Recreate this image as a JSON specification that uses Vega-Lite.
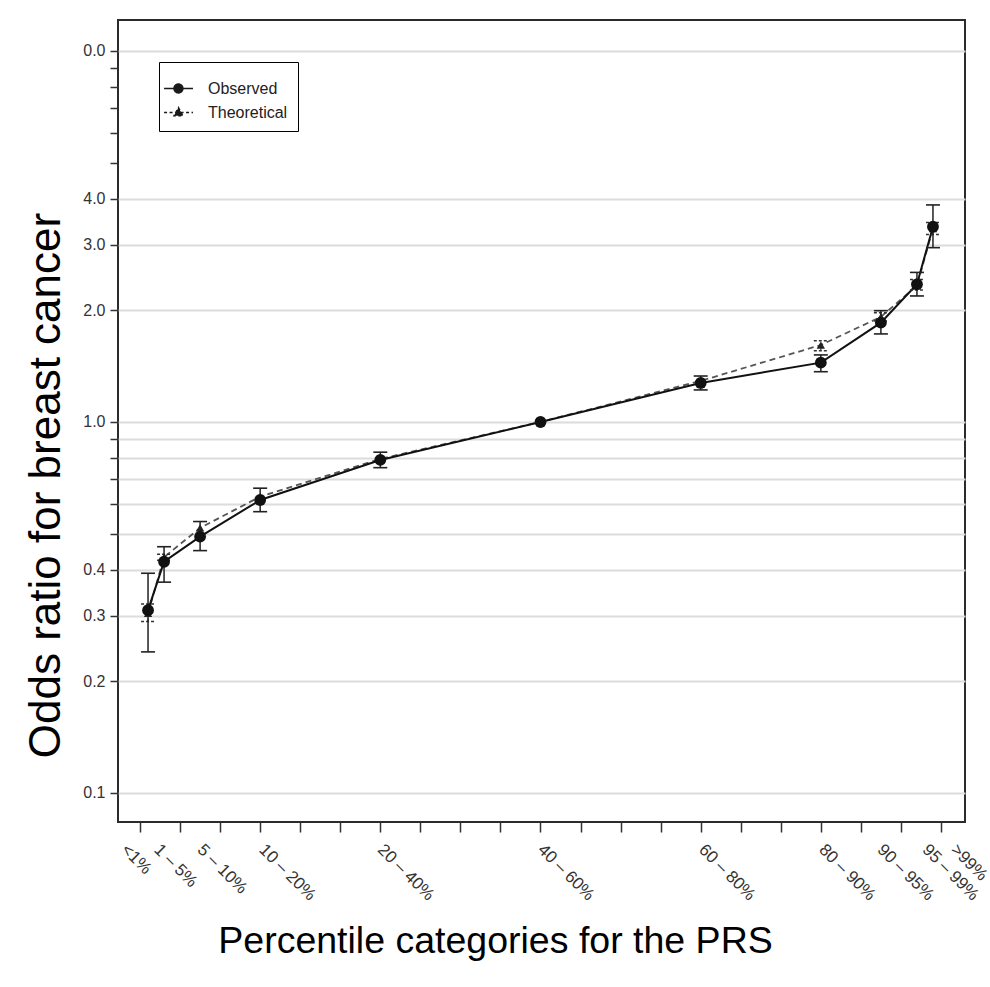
{
  "$schema": "https://vega.github.io/schema/vega-lite/v6.json",
  "width": 847,
  "height": 802,
  "autosize": {"type": "none"},
  "padding": {"left": 118, "top": 20, "right": 25, "bottom": 165},
  "background": "white",
  "config": {"view": {"stroke": "#2b2b2b", "strokeWidth": 2}, "font": "Liberation Sans"},
  "datasets": {
    "or": [
      {"cat": "<1%", "x": 1, "series": "Theoretical", "or": 0.305, "lo": 0.29, "hi": 0.323},
      {"cat": "1 – 5%", "x": 3, "series": "Theoretical", "or": 0.432, "lo": 0.424, "hi": 0.44},
      {"cat": "5 – 10%", "x": 7.5, "series": "Theoretical", "or": 0.518, "lo": null, "hi": null},
      {"cat": "10 – 20%", "x": 15, "series": "Theoretical", "or": 0.629, "lo": null, "hi": null},
      {"cat": "20 – 40%", "x": 30, "series": "Theoretical", "or": 0.795, "lo": null, "hi": null},
      {"cat": "40 – 60%", "x": 50, "series": "Theoretical", "or": 1.0, "lo": null, "hi": null},
      {"cat": "60 – 80%", "x": 70, "series": "Theoretical", "or": 1.29, "lo": null, "hi": null},
      {"cat": "80 – 90%", "x": 85, "series": "Theoretical", "or": 1.612, "lo": 1.555, "hi": 1.655},
      {"cat": "90 – 95%", "x": 92.5, "series": "Theoretical", "or": 1.92, "lo": 1.87, "hi": 1.97},
      {"cat": "95 – 99%", "x": 97, "series": "Theoretical", "or": 2.33, "lo": 2.27, "hi": 2.42},
      {"cat": ">99%", "x": 99, "series": "Theoretical", "or": 3.32, "lo": 3.2, "hi": 3.45},
      {"cat": "<1%", "x": 1, "series": "Observed", "or": 0.311, "lo": 0.24, "hi": 0.391},
      {"cat": "1 – 5%", "x": 3, "series": "Observed", "or": 0.42, "lo": 0.37, "hi": 0.461},
      {"cat": "5 – 10%", "x": 7.5, "series": "Observed", "or": 0.491, "lo": 0.45, "hi": 0.539},
      {"cat": "10 – 20%", "x": 15, "series": "Observed", "or": 0.616, "lo": 0.573, "hi": 0.663},
      {"cat": "20 – 40%", "x": 30, "series": "Observed", "or": 0.79, "lo": 0.753, "hi": 0.829},
      {"cat": "40 – 60%", "x": 50, "series": "Observed", "or": 1.0, "lo": null, "hi": null},
      {"cat": "60 – 80%", "x": 70, "series": "Observed", "or": 1.274, "lo": 1.22, "hi": 1.33},
      {"cat": "80 – 90%", "x": 85, "series": "Observed", "or": 1.445, "lo": 1.366, "hi": 1.516},
      {"cat": "90 – 95%", "x": 92.5, "series": "Observed", "or": 1.852, "lo": 1.727, "hi": 1.995},
      {"cat": "95 – 99%", "x": 97, "series": "Observed", "or": 2.35, "lo": 2.186, "hi": 2.53},
      {"cat": ">99%", "x": 99, "series": "Observed", "or": 3.36, "lo": 2.95, "hi": 3.846}
    ]
  },
  "data": {"name": "or"},
  "resolve": {"axis": {"x": "independent"}},
  "layer": [
    {
      "transform": [{"filter": "datum.series === 'Theoretical'"}],
      "mark": {"type": "line", "strokeWidth": 1.8, "color": "#555555", "strokeDash": [6, 4]},
      "encoding": {
        "x": {"field": "x", "type": "quantitative", "scale": {"domain": [-2.75, 103], "nice": false, "zero": false},
          "axis": {"orient": "bottom", "values": [0,5,10,15,20,25,30,35,40,45,50,55,60,65,70,75,80,85,90,95,100], "labels": false, "domain": false, "grid": false, "ticks": true, "tickSize": 10, "tickColor": "#333333", "tickWidth": 1.5, "title": null}},
        "y": {"field": "or", "type": "quantitative", "scale": {"type": "log", "domain": [0.0835, 12.12], "nice": false},
          "axis": {
            "values": [0.1,0.2,0.3,0.4,0.5,0.6,0.7,0.8,0.9,1,2,3,4,5,6,7,8,9,10],
            "labelExpr": "datum.value == 10 ? '0.0' : ((datum.value == 0.1 || datum.value == 0.2 || datum.value == 0.3 || datum.value == 0.4 || datum.value == 1 || datum.value == 2 || datum.value == 3 || datum.value == 4) ? format(datum.value, '.1f') : '')",
            "labelOverlap": false,
            "grid": true, "gridColor": "#dcdcdc", "gridWidth": 1.8,
            "gridOpacity": {"condition": {"test": "datum.value > 4.5 && datum.value < 9.5", "value": 0}, "value": 1},
            "domain": false, "ticks": true, "tickColor": "#333333", "tickSize": 8, "tickWidth": 1.5,
            "labelFont": "Liberation Sans", "labelFontSize": 16, "labelColor": "#333333", "labelPadding": 5,
            "title": "Odds ratio for breast cancer", "titleFont": "Liberation Sans", "titleFontSize": 44, "titleFontWeight": "normal", "titleColor": "black",
            "titleX": -59, "titleY": 465, "titleAngle": 270, "titleAlign": "center", "titleBaseline": "alphabetic"
          }}
      }
    },
    {
      "transform": [{"filter": "datum.series === 'Observed'"}],
      "mark": {"type": "line", "strokeWidth": 2, "color": "#111111"},
      "encoding": {
        "x": {"field": "x", "type": "quantitative",
          "axis": {
            "orient": "bottom",
            "values": [-1.35, 2.75, 8.15, 15.85, 30.65, 50.65, 70.75, 85.75, 93.05, 98.65, 102.2],
            "labelExpr": "datum.value < 0 ? '<1%' : datum.value < 5 ? '1 – 5%' : datum.value < 10 ? '5 – 10%' : datum.value < 20 ? '10 – 20%' : datum.value < 40 ? '20 – 40%' : datum.value < 60 ? '40 – 60%' : datum.value < 80 ? '60 – 80%' : datum.value < 90 ? '80 – 90%' : datum.value < 95 ? '90 – 95%' : datum.value < 100 ? '95 – 99%' : '>99%'",
            "ticks": false, "tickSize": 0, "domain": false, "grid": false,
            "labelAngle": 45, "labelAlign": "left", "labelBaseline": "top", "labelPadding": 19,
            "labelFont": "Liberation Sans", "labelFontSize": 17, "labelColor": "#333333",
            "labelOverlap": false, "labelBound": false, "labelFlush": false,
            "title": "Percentile categories for the PRS", "titleFont": "Liberation Sans", "titleFontSize": 37.5, "titleFontWeight": "normal", "titleColor": "black",
            "titleX": 377, "titleY": 130, "titleAlign": "center", "titleBaseline": "alphabetic", "titleAngle": 0
          }},
        "y": {"field": "or", "type": "quantitative"}
      }
    },
    {
      "transform": [{"filter": "datum.series === 'Theoretical' && isValid(datum.lo)"}],
      "mark": {"type": "rule", "strokeDash": [3, 2], "color": "#333333", "strokeWidth": 1.2},
      "encoding": {
        "x": {"field": "x", "type": "quantitative", "axis": null},
        "y": {"field": "lo", "type": "quantitative"},
        "y2": {"field": "hi"}
      }
    },
    {
      "transform": [{"filter": "datum.series === 'Theoretical' && isValid(datum.lo)"}, {"fold": ["lo", "hi"], "as": ["bound", "val"]}],
      "mark": {"type": "point", "shape": "M-1,0H1", "filled": false, "size": 196, "strokeDash": [3, 2], "color": "#333333", "strokeWidth": 1.5, "opacity": 1},
      "encoding": {
        "x": {"field": "x", "type": "quantitative", "axis": null},
        "y": {"field": "val", "type": "quantitative"}
      }
    },
    {
      "transform": [{"filter": "datum.series === 'Observed' && isValid(datum.lo)"}],
      "mark": {"type": "rule", "color": "#222222", "strokeWidth": 1.5},
      "encoding": {
        "x": {"field": "x", "type": "quantitative", "axis": null},
        "y": {"field": "lo", "type": "quantitative"},
        "y2": {"field": "hi"}
      }
    },
    {
      "transform": [{"filter": "datum.series === 'Observed' && isValid(datum.lo)"}, {"fold": ["lo", "hi"], "as": ["bound", "val"]}],
      "mark": {"type": "point", "shape": "M-1,0H1", "filled": false, "size": 196, "color": "#222222", "strokeWidth": 1.6, "opacity": 1},
      "encoding": {
        "x": {"field": "x", "type": "quantitative", "axis": null},
        "y": {"field": "val", "type": "quantitative"}
      }
    },
    {
      "transform": [{"filter": "datum.series === 'Theoretical'"}],
      "mark": {"type": "point", "shape": "triangle-up", "filled": true, "size": 70, "color": "#222222", "opacity": 1},
      "encoding": {
        "x": {"field": "x", "type": "quantitative", "axis": null},
        "y": {"field": "or", "type": "quantitative"}
      }
    },
    {
      "transform": [{"filter": "datum.series === 'Observed'"}],
      "mark": {"type": "point", "shape": "circle", "filled": true, "size": 140, "color": "#111111", "opacity": 1},
      "encoding": {
        "x": {"field": "x", "type": "quantitative", "axis": null},
        "y": {"field": "or", "type": "quantitative"}
      }
    },
    {
      "transform": [{"filter": "false"}],
      "mark": {"type": "point", "filled": true, "color": "#1a1a1a", "stroke": "#1a1a1a", "strokeWidth": 1.4, "opacity": 1},
      "encoding": {
        "x": {"field": "x", "type": "quantitative", "axis": null},
        "y": {"field": "or", "type": "quantitative"},
        "shape": {"field": "series", "type": "nominal",
          "scale": {"domain": ["Observed", "Theoretical"], "range": ["M-1.43,0H0.5M-0.77,0A0.3,0.3,0,1,0,-0.17,0A0.3,0.3,0,1,0,-0.77,0Z", "M-1.43,0H0.5M-0.47,-0.33L-0.17,0.22L-0.77,0.22Z"]},
          "legend": {
            "orient": "none", "legendX": 41, "legendY": 42, "title": null,
            "strokeColor": "black", "fillColor": "white", "padding": 10.5, "rowPadding": -5,
            "symbolSize": 900, "labelOffset": 6.5, "symbolStrokeWidth": 1.4,
            "labelFont": "Liberation Sans", "labelFontSize": 16, "labelColor": "#222222"
          }},
        "strokeDash": {"field": "series", "type": "nominal",
          "scale": {"domain": ["Observed", "Theoretical"], "range": [[1, 0], [3, 2.5]]},
          "legend": {
            "orient": "none", "legendX": 41, "legendY": 42, "title": null,
            "strokeColor": "black", "fillColor": "white", "padding": 10.5, "rowPadding": -5,
            "symbolSize": 900, "labelOffset": 6.5, "symbolStrokeWidth": 1.4,
            "labelFont": "Liberation Sans", "labelFontSize": 16, "labelColor": "#222222"
          }}
      }
    }
  ]
}
